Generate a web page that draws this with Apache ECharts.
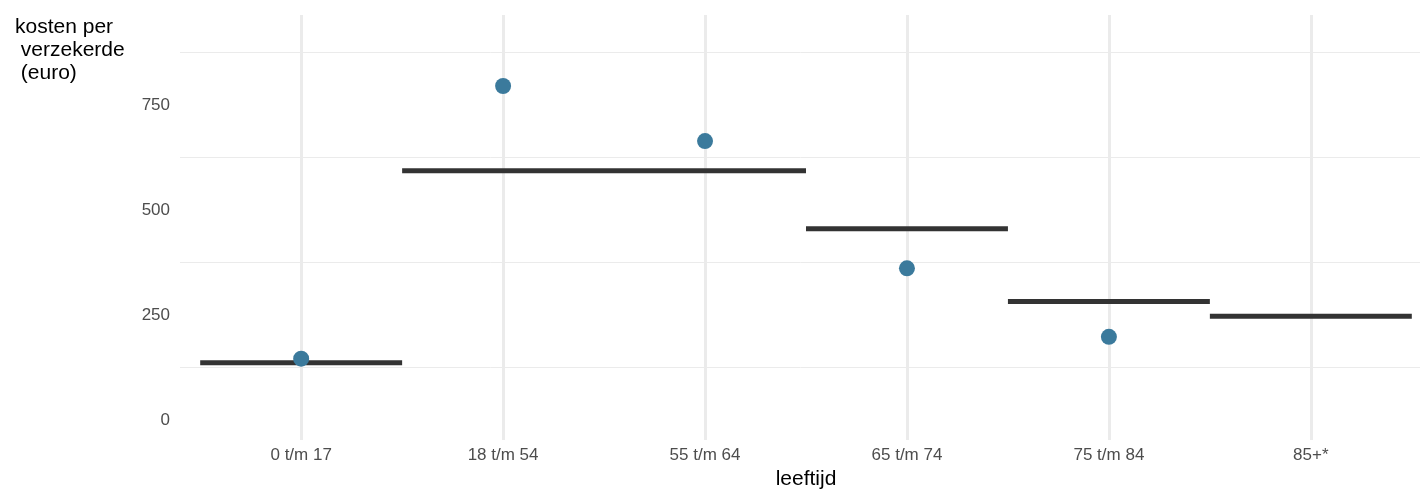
<!DOCTYPE html>
<html>
<head>
<meta charset="utf-8">
<script src="https://cdn.jsdelivr.net/npm/echarts@6/dist/echarts.min.js"></script>
<style>
html,body{margin:0;padding:0;background:#fff;}
#chart{width:1420px;height:489px;}
</style>
</head>
<body>
<div id="chart"></div>
<script>
// Data
const categories = ['0 t/m 17', '18 t/m 54', '55 t/m 64', '65 t/m 74', '75 t/m 84', '85+*'];
const pointValues = [146, 795, 664, 361, 198, null];
// horizontal reference segments: first category index, last category index (1-based), value
const segStart = [1, 2, 4, 5, 6];
const segEnd   = [1, 3, 4, 5, 6];
const segValue = [136, 593, 455, 282, 247];
const yTicks = [0, 250, 500, 750];
const yMinorGrid = [125, 375, 625, 875];

const FONT = '"Liberation Sans", Arial, sans-serif';

const pointData = [];
pointValues.forEach((v, i) => { if (v !== null) pointData.push([i + 1, v]); });
const segData = segValue.map((v, i) => [segStart[i] - 0.5, segEnd[i] + 0.5, v]);

const chart = echarts.init(document.getElementById('chart'), null, {renderer: 'canvas'});
chart.setOption({
  animation: false,
  backgroundColor: '#ffffff',
  grid: {left: 180, top: 15, width: 1252, bottom: 49, outerBoundsMode: 'none', containLabel: false},
  xAxis: {
    type: 'value', min: 0.4, max: 6.6,
    axisLine: {show: false}, axisTick: {show: false}, splitLine: {show: false},
    axisLabel: {
      customValues: categories.map((c, i) => i + 1),
      formatter: v => categories[Math.round(v) - 1] || '',
      color: '#4d4d4d', fontSize: 17, fontFamily: FONT, margin: 7
    }
  },
  yAxis: {
    type: 'value', min: -47.6, max: 964,
    axisLine: {show: false}, axisTick: {show: false}, splitLine: {show: false},
    axisLabel: {
      customValues: yTicks,
      formatter: v => String(v),
      color: '#4d4d4d', fontSize: 17, fontFamily: FONT, margin: 10
    }
  },
  graphic: [
    {type: 'text', x: 15, y: 16, style: {text: 'kosten per\n verzekerde\n (euro)', fill: '#000', font: '21px ' + FONT, lineHeight: 23, verticalAlign: 'top'}},
    {type: 'text', x: 806, y: 469, style: {text: 'leeftijd', fill: '#000', font: '21px ' + FONT, align: 'center', verticalAlign: 'top'}}
  ],
  series: [
    {
      type: 'line', data: [], z: 1, silent: true,
      markLine: {
        z: 1,
        silent: true, symbol: 'none', animation: false,
        label: {show: false},
        data: [
          ...yMinorGrid.map(v => ({yAxis: v, lineStyle: {color: '#ebebeb', width: 1, type: 'solid'}})),
          ...categories.map((c, i) => ({xAxis: i + 1, lineStyle: {color: '#ebebeb', width: 3, type: 'solid'}}))
        ]
      }
    },
    {
      type: 'custom', z: 3, silent: true,
      data: segData,
      encode: {x: [0, 1], y: 2},
      renderItem: (params, api) => {
        const p1 = api.coord([api.value(0), api.value(2)]);
        const p2 = api.coord([api.value(1), api.value(2)]);
        return {type: 'line', shape: {x1: p1[0], y1: p1[1], x2: p2[0], y2: p2[1]},
                style: {stroke: '#333333', lineWidth: 5}};
      }
    },
    {
      type: 'scatter', z: 4, silent: true,
      data: pointData,
      symbol: 'circle', symbolSize: 16,
      itemStyle: {color: '#3b7a9c', opacity: 1}
    }
  ]
});
</script>
</body>
</html>
